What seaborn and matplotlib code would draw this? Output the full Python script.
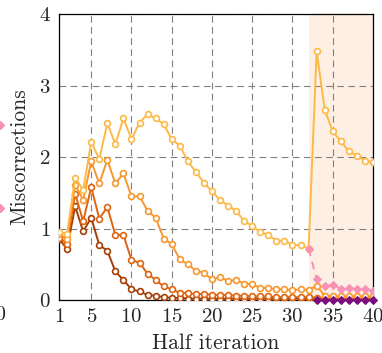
import matplotlib
matplotlib.use("Agg")
import matplotlib.pyplot as plt
from matplotlib.lines import Line2D
import seaborn as sns
import pandas as pd

# iterations on the x axis
iters = list(range(1, 41))

# four decoder settings, light to dark
miscorr_a = [0.95, 0.93, 1.71, 1.54, 2.21, 1.97, 2.47, 2.18, 2.54, 2.25,
             2.48, 2.60, 2.54, 2.46, 2.25, 2.16, 1.94, 1.79, 1.64, 1.52,
             1.40, 1.32, 1.25, 1.10, 1.04, 0.95, 0.91, 0.83, 0.83, 0.77,
             0.77, 0.72, 3.48, 2.66, 2.36, 2.22, 2.08, 2.02, 1.95, 1.93]
miscorr_b = [0.92, 0.86, 1.61, 1.40, 1.94, 1.63, 1.96, 1.63, 1.77, 1.45,
             1.45, 1.25, 1.15, 0.86, 0.78, 0.57, 0.50, 0.41, 0.38, 0.29,
             0.32, 0.27, 0.28, 0.23, 0.22, 0.17, 0.17, 0.15, 0.15, 0.14,
             0.15, 0.14, 0.20, 0.06, 0.05, 0.05, 0.05, 0.05, 0.05, 0.05]
miscorr_c = [0.87, 0.79, 1.49, 1.10, 1.58, 1.14, 1.30, 0.91, 0.91, 0.56,
             0.52, 0.37, 0.28, 0.19, 0.15, 0.10, 0.10, 0.08, 0.09, 0.07,
             0.07, 0.07, 0.06, 0.06, 0.05, 0.05, 0.05, 0.04, 0.04, 0.04,
             0.04, 0.04, 0.03, 0.02, 0.02, 0.02, 0.02, 0.02, 0.02, 0.02]
miscorr_d = [0.86, 0.71, 1.31, 0.96, 1.15, 0.77, 0.69, 0.40, 0.28, 0.15,
             0.12, 0.07, 0.06, 0.04, 0.03, 0.03, 0.02, 0.02, 0.02, 0.02,
             0.02, 0.02, 0.02, 0.02, 0.02, 0.02, 0.02, 0.02, 0.02, 0.02,
             0.02, 0.02, 0.02, 0.02, 0.02, 0.02, 0.02, 0.02, 0.02, 0.02]

# variants in the last phase
late_iters = list(range(32, 41))
miscorr_pink = [0.72, 0.29, 0.20, 0.21, 0.16, 0.17, 0.15, 0.16, 0.13]
purple_iters = list(range(33, 41))
miscorr_purple = [0, 0, 0, 0, 0, 0, 0, 0]

colors = ["#FDB946", "#F8972F", "#E0640F", "#A63F06"]
pink = "#F891B4"
purple = "#7A0E7C"
shade = "#FDEFE3"

sns.set_theme(style="white")
plt.rcParams["font.family"] = ["cmr10", "DejaVu Serif"]
plt.rcParams["axes.formatter.use_mathtext"] = True
plt.rcParams["mathtext.fontset"] = "cm"

fig = plt.figure(figsize=(3.82, 3.53), dpi=100)
ax = fig.add_axes([0.1545, 0.150, 0.8219, 0.8103])

ax.axvspan(32, 40, color=shade, lw=0, zorder=0)

series = [miscorr_d, miscorr_c, miscorr_b, miscorr_a]
cols = colors[::-1]
for vals, c in zip(series, cols):
    df = pd.DataFrame({"it": iters, "m": vals})
    sns.lineplot(data=df, x="it", y="m", ax=ax, color=c, lw=1.4,
                 marker="o", markersize=4.2, markerfacecolor="white",
                 markeredgecolor=c, markeredgewidth=1.2, zorder=3)

df_p = pd.DataFrame({"it": late_iters, "m": miscorr_pink})
sns.lineplot(data=df_p, x="it", y="m", ax=ax, color=pink, lw=1.4,
             linestyle=(0, (4, 3)), marker="D", markersize=4.2,
             markerfacecolor=pink, markeredgecolor=pink, zorder=4)
df_u = pd.DataFrame({"it": purple_iters, "m": miscorr_purple})
sns.lineplot(data=df_u, x="it", y="m", ax=ax, color=purple, lw=1.4,
             marker="D", markersize=4.5, markerfacecolor=purple,
             markeredgecolor=purple, zorder=5, clip_on=False)

ax.set_xlim(1, 40)
ax.set_ylim(0, 4)
ax.set_xticks([1, 5, 10, 15, 20, 25, 30, 35, 40])
ax.set_yticks([0, 1, 2, 3, 4])
ax.grid(True, color="#808080", lw=0.8, linestyle=(0, (6, 4)))
ax.set_axisbelow(True)
for s in ax.spines.values():
    s.set_color("black")
    s.set_linewidth(0.9)
ax.tick_params(labelsize=15, length=0, pad=6)
ax.set_xlabel("Half iteration", fontsize=15.5, labelpad=5)
ax.set_ylabel("Miscorrections", fontsize=15.5, labelpad=7)

# cut-off pieces of the neighbouring panel at the left edge
fig.text(-0.012, 0.108, "40", fontsize=15, ha="center", va="center")
for yf in (0.646, 0.411):
    fig.add_artist(Line2D([0.0], [yf], transform=fig.transFigure,
                          marker="D", markersize=4.2, color=pink, lw=0))

fig.savefig("out.png", dpi=100)
